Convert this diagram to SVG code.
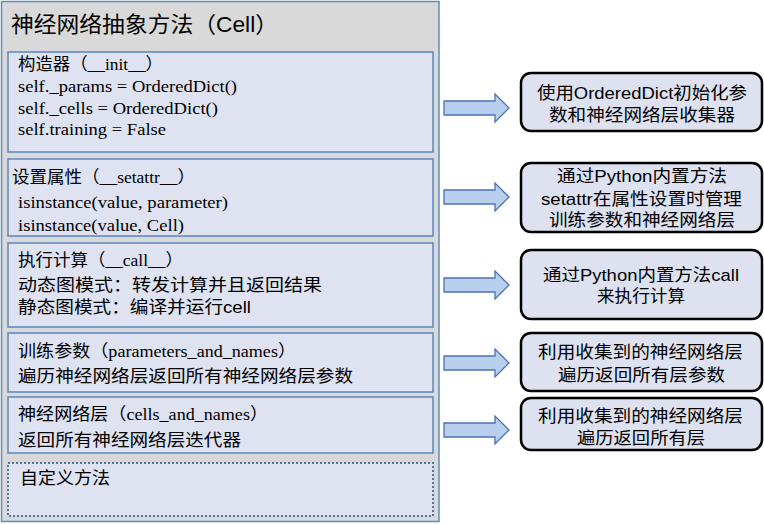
<svg xmlns="http://www.w3.org/2000/svg" width="764" height="524" viewBox="0 0 764 524">
<defs>
<style>
.outer{fill:#d9d9d9;stroke:#5b8fbf;stroke-width:1.5}
.box{fill:#dee2f1;stroke:#5a86c0;stroke-width:1.5}
.dot{fill:#dee2f1;stroke:#4a74b0;stroke-width:2;stroke-dasharray:2 2}
.rbox{fill:#dde1f0;stroke:#000;stroke-width:2.5}
.arrow{fill:#b9cfee;stroke:#4a72b0;stroke-width:1.3}
.t{font-family:"Liberation Serif","Noto Sans CJK SC",serif;font-size:17px;fill:#000}
.title{font-family:"Liberation Sans","Noto Sans CJK SC",sans-serif;font-size:22px;fill:#000}
.r{font-family:"Liberation Sans","Noto Sans CJK SC",sans-serif;font-size:17px;fill:#000;text-anchor:middle}
</style>
</defs>
<g id="container">
<rect class="outer" x="1.5" y="1.5" width="437.5" height="520"/>
<text class="title" x="11" y="32" textLength="267" lengthAdjust="spacingAndGlyphs">神经网络抽象方法（Cell）</text>
</g>
<g id="node-init">
<rect class="box" x="8" y="52" width="425" height="100"/>
<text class="t" x="18" y="70" textLength="145" lengthAdjust="spacingAndGlyphs">构造器（__init__）</text>
<text class="t" x="18" y="92" textLength="219" lengthAdjust="spacingAndGlyphs">self._params = OrderedDict()</text>
<text class="t" x="18" y="113.5" textLength="200" lengthAdjust="spacingAndGlyphs">self._cells = OrderedDict()</text>
<text class="t" x="18" y="135" textLength="148" lengthAdjust="spacingAndGlyphs">self.training = False</text>
</g>
<g id="node-setattr">
<rect class="box" x="8" y="159" width="425" height="77"/>
<text class="t" x="12" y="183" textLength="183" lengthAdjust="spacingAndGlyphs">设置属性（__setattr__）</text>
<text class="t" x="18" y="208" textLength="210" lengthAdjust="spacingAndGlyphs">isinstance(value, parameter)</text>
<text class="t" x="18" y="231" textLength="166" lengthAdjust="spacingAndGlyphs">isinstance(value, Cell)</text>
</g>
<g id="node-call">
<rect class="box" x="8" y="243" width="425" height="84"/>
<text class="t" x="18" y="266" textLength="165" lengthAdjust="spacingAndGlyphs">执行计算（__call__）</text>
<text class="t" x="18" y="291" textLength="304" lengthAdjust="spacingAndGlyphs">动态图模式：转发计算并且返回结果</text>
<text class="t" x="18" y="313" textLength="233" lengthAdjust="spacingAndGlyphs">静态图模式：编译并运行<tspan font-family="Liberation Sans, sans-serif">cell</tspan></text>
</g>
<g id="node-params">
<rect class="box" x="8" y="333" width="425" height="59"/>
<text class="t" x="18" y="357" textLength="278" lengthAdjust="spacingAndGlyphs">训练参数（parameters_and_names）</text>
<text class="t" x="18" y="382" textLength="335" lengthAdjust="spacingAndGlyphs">遍历神经网络层返回所有神经网络层参数</text>
</g>
<g id="node-cells">
<rect class="box" x="8" y="397" width="425" height="56"/>
<text class="t" x="18" y="420" textLength="250" lengthAdjust="spacingAndGlyphs">神经网络层（cells_and_names）</text>
<text class="t" x="18" y="446" textLength="223" lengthAdjust="spacingAndGlyphs">返回所有神经网络层迭代器</text>
</g>
<g id="node-custom">
<rect class="dot" x="8" y="463" width="425" height="53"/>
<text class="t" x="20" y="484" textLength="90" lengthAdjust="spacingAndGlyphs">自定义方法</text>
</g>
<g id="connectors">
<path class="arrow" d="M444,101 H495 V94 L509,108 L495,122 V115 H444 Z"/>
<path class="arrow" d="M444,190 H495 V183 L509,197 L495,211 V204 H444 Z"/>
<path class="arrow" d="M444,278 H495 V271 L509,285 L495,299 V292 H444 Z"/>
<path class="arrow" d="M444,356 H495 V349 L509,363 L495,377 V370 H444 Z"/>
<path class="arrow" d="M444,423 H495 V416 L509,430 L495,444 V437 H444 Z"/>
</g>
<g id="desc-init">
<rect class="rbox" x="521" y="73" width="241" height="58" rx="10"/>
<text class="r" x="642" y="99" textLength="210" lengthAdjust="spacingAndGlyphs">使用OrderedDict初始化参</text>
<text class="r" x="642" y="121" textLength="186" lengthAdjust="spacingAndGlyphs">数和神经网络层收集器</text>
</g>
<g id="desc-setattr">
<rect class="rbox" x="521" y="163" width="241" height="69" rx="10"/>
<text class="r" x="642" y="182" textLength="170" lengthAdjust="spacingAndGlyphs">通过Python内置方法</text>
<text class="r" x="641.5" y="205" textLength="201" lengthAdjust="spacingAndGlyphs">setattr在属性设置时管理</text>
<text class="r" x="642" y="226" textLength="186" lengthAdjust="spacingAndGlyphs">训练参数和神经网络层</text>
</g>
<g id="desc-call">
<rect class="rbox" x="521" y="250" width="241" height="69" rx="10"/>
<text class="r" x="641" y="281" textLength="196" lengthAdjust="spacingAndGlyphs">通过Python内置方法call</text>
<text class="r" x="641" y="302" textLength="88" lengthAdjust="spacingAndGlyphs">来执行计算</text>
</g>
<g id="desc-params">
<rect class="rbox" x="521" y="333" width="241" height="58" rx="10"/>
<text class="r" x="640.5" y="358" textLength="205" lengthAdjust="spacingAndGlyphs">利用收集到的神经网络层</text>
<text class="r" x="641.5" y="381" textLength="167" lengthAdjust="spacingAndGlyphs">遍历返回所有层参数</text>
</g>
<g id="desc-cells">
<rect class="rbox" x="521" y="398" width="241" height="52" rx="10"/>
<text class="r" x="640.5" y="422" textLength="205" lengthAdjust="spacingAndGlyphs">利用收集到的神经网络层</text>
<text class="r" x="641" y="444" textLength="128" lengthAdjust="spacingAndGlyphs">遍历返回所有层</text>
</g>
</svg>
